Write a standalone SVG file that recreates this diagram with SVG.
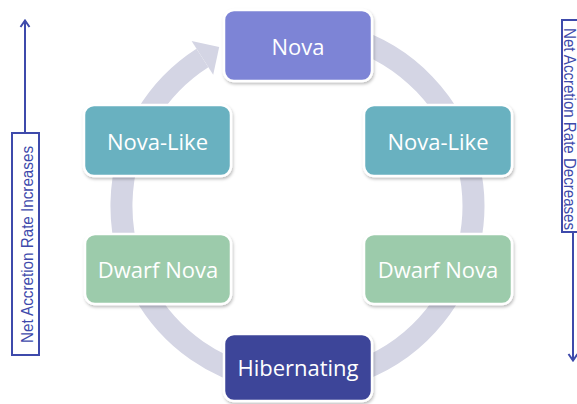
<svg xmlns="http://www.w3.org/2000/svg" width="577" height="404" viewBox="0 0 577 404">
<style>
.box{stroke:#ffffff;stroke-width:2.5;filter:url(#sh)}
.lbl{font-family:"Open Sans","Noto Sans",sans-serif;font-size:22px;fill:#ffffff;text-anchor:middle}
.side{font-family:"Liberation Sans",Arial,sans-serif;font-size:16px;fill:#3E4AAB}
.sbox{fill:#ffffff;stroke:#3E4AAB;stroke-width:2}
.sline{stroke:#3E4AAB;stroke-width:2;fill:none}
</style>
<defs>
<filter id="sh" x="-10%" y="-10%" width="125%" height="130%">
<feDropShadow dx="1" dy="2" stdDeviation="1.5" flood-color="#000000" flood-opacity="0.25"/>
</filter>
</defs>
<rect width="577" height="404" fill="#ffffff"/>
<g id="connectors">
<path d="M266.9,32.7 A176,176 0 1 1 202.4,57.9" fill="none" stroke="#D4D5E4" stroke-width="22"/>
<polygon points="219.2,47.1 191.6,41.1 213.2,74.7" fill="#D4D5E4"/>
<path class="sline" d="M25,133 V21 M20.5,27 L25,20.5 L29.5,27"/>
<path class="sline" d="M573,232 V360 M568.5,354 L573,360.5 L577.5,354"/>
</g>
<g id="nova">
<rect class="box" x="224" y="10" width="148" height="71" rx="10" fill="#7D84D6"/>
<text class="lbl" x="298" y="54.5">Nova</text>
</g>
<g id="novalike-left">
<rect class="box" x="84" y="105" width="147" height="71" rx="10" fill="#69B1C0"/>
<text class="lbl" x="157.5" y="150">Nova-Like</text>
</g>
<g id="novalike-right">
<rect class="box" x="364" y="105" width="148" height="71" rx="10" fill="#69B1C0"/>
<text class="lbl" x="438" y="150">Nova-Like</text>
</g>
<g id="dwarf-left">
<rect class="box" x="85" y="234" width="146" height="70" rx="10" fill="#9CCBAB"/>
<text class="lbl" x="158" y="278">Dwarf Nova</text>
</g>
<g id="dwarf-right">
<rect class="box" x="364" y="234" width="148" height="70" rx="10" fill="#9CCBAB"/>
<text class="lbl" x="438" y="278">Dwarf Nova</text>
</g>
<g id="hibernating">
<rect class="box" x="224" y="334" width="148" height="67" rx="10" fill="#3D4499"/>
<text class="lbl" x="298" y="376">Hibernating</text>
</g>
<g id="increase-label">
<rect class="sbox" x="12" y="133" width="27" height="222"/>
<text class="side" transform="translate(32.5,343) rotate(-90)" textLength="197" lengthAdjust="spacingAndGlyphs">Net Accretion Rate Increases</text>
</g>
<g id="decrease-label">
<rect class="sbox" x="562" y="20" width="30" height="212"/>
<text class="side" transform="translate(564,28) rotate(90)" textLength="202" lengthAdjust="spacingAndGlyphs">Net Accretion Rate Decreases</text>
</g>
</svg>
